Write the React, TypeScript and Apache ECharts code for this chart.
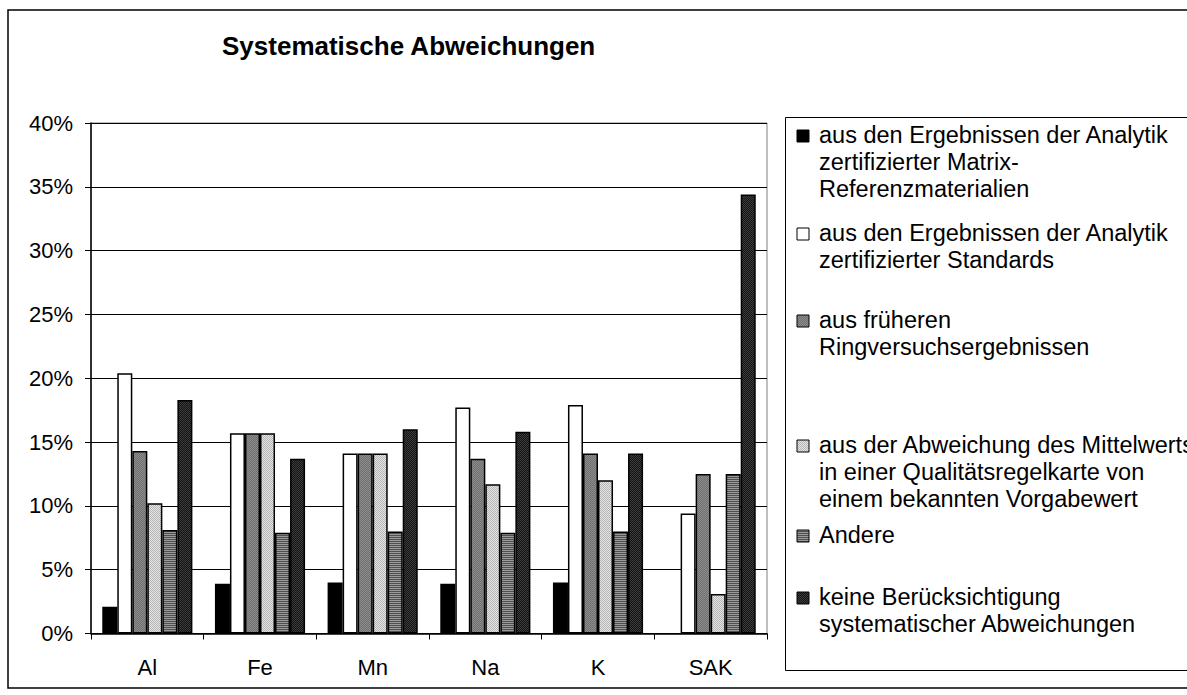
import React, { useEffect, useRef } from "react";
import * as echarts from "echarts";

const titleText = "Systematische Abweichungen";
const categories = ["Al", "Fe", "Mn", "Na", "K", "SAK"];
const yTickValues = [0, 0.05, 0.1, 0.15, 0.2, 0.25, 0.3, 0.35, 0.4];

const matrixRefValues = [0.021, 0.039, 0.040, 0.039, 0.040, null];
const standardsValues = [0.204, 0.157, 0.141, 0.177, 0.179, 0.094];
const ringValues = [0.143, 0.157, 0.141, 0.137, 0.141, 0.125];
const controlChartValues = [0.102, 0.157, 0.141, 0.117, 0.120, 0.031];
const otherValues = [0.081, 0.079, 0.080, 0.079, 0.080, 0.125];
const noneValues = [0.183, 0.137, 0.160, 0.158, 0.141, 0.344];

const legendLines = [
  ["aus den Ergebnissen der Analytik", "zertifizierter Matrix-", "Referenzmaterialien"],
  ["aus den Ergebnissen der Analytik", "zertifizierter Standards"],
  ["aus früheren", "Ringversuchsergebnissen"],
  ["aus der Abweichung des Mittelwerts", "in einer Qualitätsregelkarte von", "einem bekannten Vorgabewert"],
  ["Andere"],
  ["keine Berücksichtigung", "systematischer Abweichungen"],
];
const seriesNames = legendLines.map((l) => l.join(" "));
const seriesValues = [matrixRefValues, standardsValues, ringValues, controlChartValues, otherValues, noneValues];

function makeCanvas(size: number, draw: (ctx: CanvasRenderingContext2D) => void) {
  const c = document.createElement("canvas");
  c.width = size;
  c.height = size;
  const ctx = c.getContext("2d")!;
  draw(ctx);
  return c;
}

function checker(a: string, b: string) {
  return makeCanvas(2, (ctx) => {
    ctx.fillStyle = a;
    ctx.fillRect(0, 0, 2, 2);
    ctx.fillStyle = b;
    ctx.fillRect(0, 0, 1, 1);
    ctx.fillRect(1, 1, 1, 1);
  });
}

function stripes(a: string, b: string) {
  return makeCanvas(2, (ctx) => {
    ctx.fillStyle = a;
    ctx.fillRect(0, 0, 2, 2);
    ctx.fillStyle = b;
    ctx.fillRect(0, 1, 2, 1);
  });
}

export default function App() {
  const ref = useRef<HTMLDivElement>(null);
  useEffect(() => {
    if (!ref.current) return;
    const chart = echarts.init(ref.current, undefined, { renderer: "svg" });
    const font = "Liberation Sans, Arial, sans-serif";

    const fills: any[] = [
      "#000000",
      "#ffffff",
      { image: checker("#707070", "#8c8c8c"), repeat: "repeat" },
      { image: checker("#e6e6e6", "#b4b4b4"), repeat: "repeat" },
      { image: stripes("#9a9a9a", "#505050"), repeat: "repeat" },
      { image: checker("#141414", "#3c3c3c"), repeat: "repeat" },
    ];

    const series = seriesNames.map((name, i) => ({
      name,
      type: "bar",
      data: seriesValues[i],
      barGap: "0%",
      barCategoryGap: "20%",
      itemStyle: { color: fills[i], borderColor: "#000", borderWidth: 1.5 },
      emphasis: { disabled: true },
    }));

    const legendFirstLineY = [135, 233, 320, 445, 535, 597];
    const lineH = 27;
    const legendElems: any[] = [];
    legendLines.forEach((lines, i) => {
      const y0 = legendFirstLineY[i];
      legendElems.push({
        type: "rect",
        shape: { x: 797, y: y0 - 5, width: 12, height: 12 },
        style: { fill: fills[i], stroke: "#000", lineWidth: 1 },
      });
      lines.forEach((t, j) => {
        legendElems.push({
          type: "text",
          x: 819,
          y: y0 + j * lineH,
          style: {
            text: t,
            font: `23.5px ${font}`,
            fill: "#000",
            textVerticalAlign: "middle",
            textAlign: "left",
          },
        });
      });
    });

    chart.setOption({
      animation: false,
      backgroundColor: "#fff",
      title: {
        text: titleText,
        left: 222,
        top: 33,
        padding: 0,
        textStyle: { fontSize: 26, fontWeight: "bold", fontFamily: font, color: "#000" },
      },
      grid: {
        left: 91,
        top: 123,
        width: 676,
        height: 510.5,
        show: true,
        borderColor: "#808080",
        borderWidth: 1,
        backgroundColor: "transparent",
      },
      xAxis: {
        type: "category",
        data: categories,
        axisLine: { lineStyle: { color: "#000", width: 1.5 } },
        axisTick: { show: true, length: 6, lineStyle: { color: "#000" } },
        axisLabel: { color: "#000", fontSize: 22, fontFamily: font, margin: 23 },
      },
      yAxis: {
        type: "value",
        min: yTickValues[0],
        max: yTickValues[yTickValues.length - 1],
        interval: yTickValues[1] - yTickValues[0],
        axisLine: { show: true, lineStyle: { color: "#000", width: 1.5 } },
        axisTick: { show: true, length: 6, lineStyle: { color: "#000" } },
        axisLabel: {
          color: "#000",
          fontSize: 22,
          fontFamily: font,
          margin: 18,
          formatter: (v: number) => `${Math.round(v * 100)}%`,
        },
        splitLine: { lineStyle: { color: "#000", width: 1 } },
      },
      series,
      graphic: [
        {
          type: "rect",
          z: 0,
          silent: true,
          shape: { x: 8, y: 10, width: 1300, height: 678 },
          style: { fill: "none", stroke: "#000", lineWidth: 1.5 },
        },
        {
          type: "rect",
          silent: true,
          shape: { x: 785.5, y: 117.5, width: 500, height: 553 },
          style: { fill: "#fff", stroke: "#000", lineWidth: 1 },
        },
        ...legendElems,
      ],
    });
    return () => chart.dispose();
  }, []);
  return (
    <div
      ref={ref}
      style={{ position: "absolute", left: 0, top: 0, width: 1187, height: 695 }}
    />
  );
}
